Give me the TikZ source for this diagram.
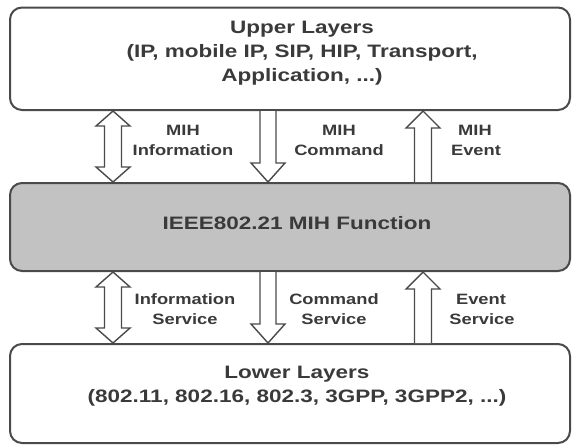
\documentclass[tikz,border=0pt]{standalone}
\usepackage{fontspec}
\setmainfont{Liberation Sans}
\newfontfamily\bigfont{Liberation Sans}[FakeStretch=1.25]
\newfontfamily\labfont{Liberation Sans}[FakeStretch=1.22]
\usetikzlibrary{calc}
\definecolor{txt}{HTML}{3A3A3A}
\definecolor{edge}{HTML}{4A4A4A}
\definecolor{midfill}{HTML}{C2C2C2}
\tikzset{
 layerbox/.style={draw=edge, line width=2pt, rounded corners=12pt, minimum width=560pt, inner sep=0pt},
 bigtxt/.style={font=\bigfont\bfseries\fontsize{18pt}{22pt}\selectfont, text=txt, anchor=base, inner sep=0pt},
 labtxt/.style={font=\labfont\bfseries\fontsize{15pt}{19pt}\selectfont, text=txt, anchor=base, inner sep=0pt},
 barrow/.style={draw=edge, line width=1.4pt, fill=white, line join=miter},
}
% #1 x, #2 half shaft, #3 half head, #4 head length, #5 upper node, #6 lower node
\newcommand\blkup[6]{\draw[barrow] let \p1=(#5.south), \p2=(#6.north) in
 ({(#1-#2)*1pt},\y2) -- ({(#1-#2)*1pt},{\y1-#4*1pt}) -- ({(#1-#3)*1pt},{\y1-#4*1pt}) -- ({#1*1pt},\y1)
 -- ({(#1+#3)*1pt},{\y1-#4*1pt}) -- ({(#1+#2)*1pt},{\y1-#4*1pt}) -- ({(#1+#2)*1pt},\y2);}
\newcommand\blkdown[6]{\draw[barrow] let \p1=(#5.south), \p2=(#6.north) in
 ({(#1-#2)*1pt},\y1) -- ({(#1-#2)*1pt},{\y2+#4*1pt}) -- ({(#1-#3)*1pt},{\y2+#4*1pt}) -- ({#1*1pt},\y2)
 -- ({(#1+#3)*1pt},{\y2+#4*1pt}) -- ({(#1+#2)*1pt},{\y2+#4*1pt}) -- ({(#1+#2)*1pt},\y1);}
\newcommand\blkboth[6]{\draw[barrow] let \p1=(#5.south), \p2=(#6.north) in
 ({#1*1pt},\y1) -- ({(#1+#3)*1pt},{\y1-#4*1pt}) -- ({(#1+#2)*1pt},{\y1-#4*1pt}) -- ({(#1+#2)*1pt},{\y2+#4*1pt})
 -- ({(#1+#3)*1pt},{\y2+#4*1pt}) -- ({#1*1pt},\y2) -- ({(#1-#3)*1pt},{\y2+#4*1pt}) -- ({(#1-#2)*1pt},{\y2+#4*1pt})
 -- ({(#1-#2)*1pt},{\y1-#4*1pt}) -- ({(#1-#3)*1pt},{\y1-#4*1pt}) -- cycle;}
\begin{document}
\begin{tikzpicture}[x=1pt,y=-1pt]
\useasboundingbox (0,0) rectangle (572,445);
% layer boxes
\node[layerbox, minimum height=102.5pt] (up) at (290,58.75) {};
\node[layerbox, fill=midfill, minimum height=88pt] (mid) at (290,227) {};
\node[layerbox, minimum height=99pt] (low) at (290,393.5) {};
% box texts
\node[bigtxt] (u1) at (302,33.5) {Upper Layers};
\node[bigtxt] (u2) at (302,57.5) {(IP, mobile IP, SIP, HIP, Transport,};
\node[bigtxt] (u3) at (302,81.5) {Application, ...)};
\node[bigtxt] (m1) at (297,229) {IEEE802.21 MIH Function};
\node[bigtxt] (l1) at (297,378) {Lower Layers};
\node[bigtxt] (l2) at (297,402) {(802.11, 802.16, 802.3, 3GPP, 3GPP2, ...)};
% upper arrows
\blkboth{113}{8.5}{17}{15}{up}{mid}
\blkdown{268}{8}{17}{19}{up}{mid}
\blkup{423}{8.5}{17}{17}{up}{mid}
% lower arrows
\blkboth{113}{8.5}{17}{15}{mid}{low}
\blkdown{268}{8}{17}{19}{mid}{low}
\blkup{423}{8.5}{17}{17}{mid}{low}
% upper labels
\node[labtxt] (a1) at (183,135) {MIH};
\node[labtxt] (a2) at (183,155) {Information};
\node[labtxt] (b1) at (339,135) {MIH};
\node[labtxt] (b2) at (339,155) {Command};
\node[labtxt] (c1) at (475,135) {MIH};
\node[labtxt] (c2) at (476,155) {Event};
% lower labels
\node[labtxt] (d1) at (185,304) {Information};
\node[labtxt] (d2) at (185,324) {Service};
\node[labtxt] (e1) at (334,304) {Command};
\node[labtxt] (e2) at (334,324) {Service};
\node[labtxt] (f1) at (481,304) {Event};
\node[labtxt] (f2) at (482,324) {Service};
\end{tikzpicture}
\end{document}
